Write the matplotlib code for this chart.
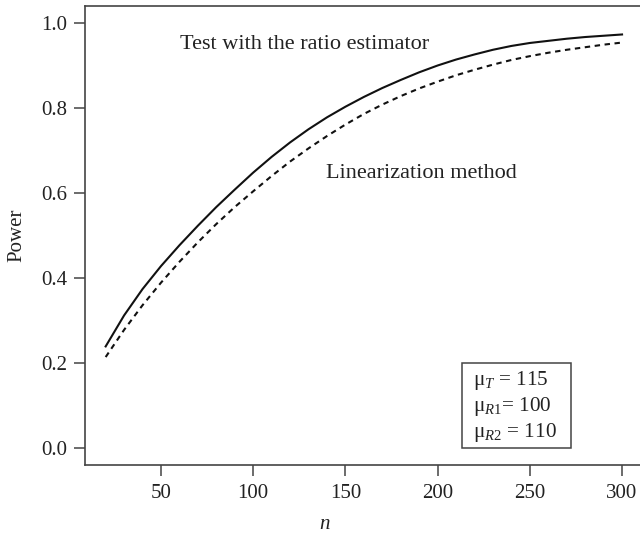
import matplotlib
matplotlib.use("Agg")
import matplotlib.pyplot as plt
from matplotlib.patches import Rectangle

plt.rcParams['font.family'] = ['Liberation Serif', 'DejaVu Serif']
plt.rcParams['mathtext.fontset'] = 'custom'
plt.rcParams['mathtext.rm'] = 'Liberation Serif'
plt.rcParams['mathtext.it'] = 'Liberation Serif:italic'

# sample sizes and power
n = [20, 30, 40, 50, 60, 70, 80, 90, 100, 110, 120, 130, 140, 150, 160,
     170, 180, 190, 200, 210, 220, 230, 240, 250, 260, 270, 280, 290, 300]
power_ratio = [0.239, 0.312, 0.374, 0.428, 0.477, 0.523, 0.567, 0.608, 0.648,
               0.685, 0.719, 0.750, 0.778, 0.803, 0.826, 0.847, 0.866, 0.884,
               0.900, 0.914, 0.926, 0.937, 0.946, 0.953, 0.958, 0.963, 0.967,
               0.970, 0.973]
power_lin = [0.214, 0.278, 0.336, 0.389, 0.438, 0.484, 0.527, 0.567, 0.604,
             0.640, 0.674, 0.705, 0.734, 0.761, 0.786, 0.808, 0.828, 0.846,
             0.862, 0.877, 0.890, 0.902, 0.913, 0.922, 0.930, 0.937, 0.943,
             0.949, 0.954]

box_lines = ["μ$_{T}$ = 115", "μ$_{R1}$= 100", "μ$_{R2}$ = 110"]

ink = "#222222"
fig = plt.figure(figsize=(6.4, 5.36), dpi=100)
ax = fig.add_axes([85/640, 71/536, 557.7/640, 459/536])

ax.plot(n, power_ratio, color="#111111", lw=1.5)
ax.plot(n, power_lin, color="#111111", lw=1.5, dashes=(2.6, 2.2))

ax.set_xlim(8.8, 311.2)
ax.set_ylim(-0.04, 1.04)
ax.set_xticks([50, 100, 150, 200, 250, 300])
ax.set_yticks([0.0, 0.2, 0.4, 0.6, 0.8, 1.0])
ax.set_yticklabels(["0.0", "0.2", "0.4", "0.6", "0.8", "1.0"])

for s in ax.spines.values():
    s.set_color("#444444")
    s.set_linewidth(1.2)
ax.tick_params(direction="out", length=8, width=1.1, color="#444444",
               labelsize=15, labelcolor=ink)
ax.tick_params(axis="y", pad=5)
ax.tick_params(axis="x", pad=6)

ax.set_ylabel("Power", fontsize=15, color=ink)
ax.yaxis.set_label_coords(-0.105, 0.5)
ax.set_xlabel("n", fontsize=15, style="italic", color=ink)
ax.xaxis.set_label_coords(0.43, -0.11)

ax.text(127.8, 0.95, "Test with the ratio estimator", fontsize=16,
        color=ink, ha="center", va="center")
ax.text(191.3, 0.646, "Linearization method", fontsize=16,
        color=ink, ha="center", va="center")

ax.add_patch(Rectangle((213, 0.0), 59.2, 0.2, fill=False,
                       edgecolor="#444444", lw=1.1))
for i, t in enumerate(box_lines):
    ax.text(219.0, 0.158 - i * 0.0607, t, fontsize=15.2, color=ink,
            ha="left", va="center")

fig.savefig("out.png", dpi=100)
